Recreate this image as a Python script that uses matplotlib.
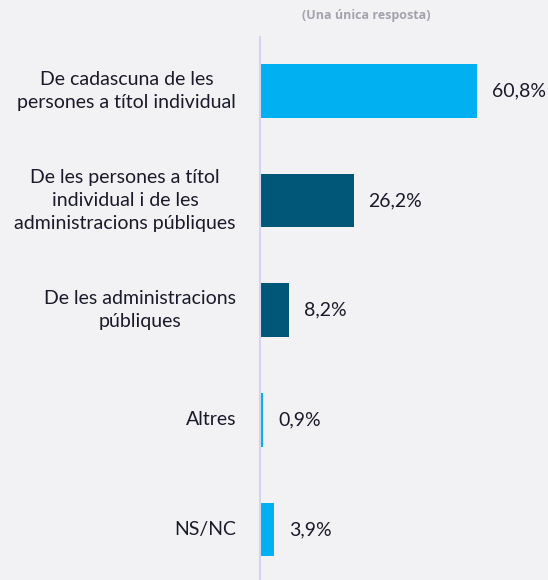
import matplotlib.pyplot as plt
from matplotlib.transforms import offset_copy

# Survey answers and shares (%)
categories = [
    "De cadascuna de les\npersones a títol individual",
    "De les persones a títol\nindividual i de les\nadministracions públiques",
    "De les administracions\npúbliques",
    "Altres",
    "NS/NC",
]
values = [60.8, 26.2, 8.2, 0.9, 3.9]
value_labels = ["60,8%", "26,2%", "8,2%", "0,9%", "3,9%"]
bar_colors = ["#00B0F0", "#005778", "#005778", "#00B0F0", "#00B0F0"]

bg = "#F2F2F5"
plt.rcParams['font.family'] = ['Lato', 'DejaVu Sans']

fig = plt.figure(figsize=(5.48, 5.8), dpi=100, facecolor=bg)
ax = fig.add_axes([260 / 548, 0, 285.6 / 548, 543 / 580])
ax.set_facecolor(bg)

y = range(len(categories))
ax.barh(y, values, height=0.49, color=bar_colors)

ax.set_xlim(0, 80)
ax.set_ylim(4.46, -0.49)

# value labels just past each bar end
for i, (v, lab) in enumerate(zip(values, value_labels)):
    tr = offset_copy(ax.transData, fig=fig, x=15, y=0, units='dots')
    ax.text(v, i, lab, transform=tr, ha='left', va='center',
            fontsize=14, color='#1A1A2A')

# category names to the left of the axis line
for i, cat in enumerate(categories):
    tr = offset_copy(ax.get_yaxis_transform(), fig=fig, x=-24, y=0, units='dots')
    ax.text(0, i, cat, transform=tr, ha='right', va='center',
            multialignment='center', fontsize=14, color='#1A1A2A',
            linespacing=1.45)

for s in ['top', 'right', 'bottom']:
    ax.spines[s].set_visible(False)
ax.spines['left'].set_color('#D4D4EE')
ax.spines['left'].set_linewidth(1.5)
ax.set_xticks([])
ax.set_yticks([])

fig.text(366 / 548, 1 - 15 / 580, "(Una única resposta)", ha='center', va='center',
         fontsize=9, fontweight='bold', color='#A3A3AD', family='Open Sans')

fig.savefig('out.png', dpi=100, facecolor=bg)
